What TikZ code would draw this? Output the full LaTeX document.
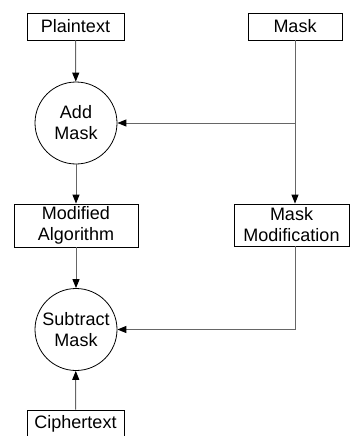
\documentclass[tikz,border=0pt]{standalone}
\usepackage{fontspec}
\setmainfont{Liberation Sans}
\usetikzlibrary{arrows.meta}
\begin{document}
\begin{tikzpicture}[x=1pt,y=-1pt,
  every node/.style={font=\fontsize{18}{21}\selectfont, align=center, inner sep=0pt},
  box/.style={draw=black, line width=0.8pt, rectangle},
  op/.style={draw=black, line width=0.8pt, circle, minimum size=82pt},
  conn/.style={draw=black!60, line width=1pt, -{Triangle[length=9pt,width=7pt,fill=black,color=black]}},
  plain/.style={draw=black!60, line width=1pt}]
\useasboundingbox (0,0) rectangle (350,436);
\node[box, minimum width=97pt, minimum height=27pt] (pt) at (75.5,26.5) {Plaintext};
\node[box, minimum width=94pt, minimum height=27pt] (mask) at (295,26.5) {Mask};
\node[op] (add) at (76,123) {Add\\Mask};
\node[box, minimum width=124pt, minimum height=43pt] (alg) at (76,225.5) {Modified\\Algorithm};
\node[box, minimum width=115pt, minimum height=42pt] (mm) at (291.5,225) {Mask\\Modification};
\node[op] (sub) at (76,329.5) {Subtract\\Mask};
\node[box, minimum width=97pt, minimum height=27pt] (ct) at (75.5,423.5) {Ciphertext};
\coordinate (j1) at (add.center -| mask.south);
\coordinate (j2) at (sub.center -| mask.south);
\draw[conn] (pt) -- (add);
\draw[conn] (add) -- (alg);
\draw[conn] (alg) -- (sub);
\draw[conn] (ct) -- (sub);
\draw[conn] (mask.south) -- (mask.south |- mm.north);
\draw[conn] (j1) -- (add.east);
\draw[conn] (mask.south |- mm.south) -- (j2) -- (sub.east);
\end{tikzpicture}
\end{document}
